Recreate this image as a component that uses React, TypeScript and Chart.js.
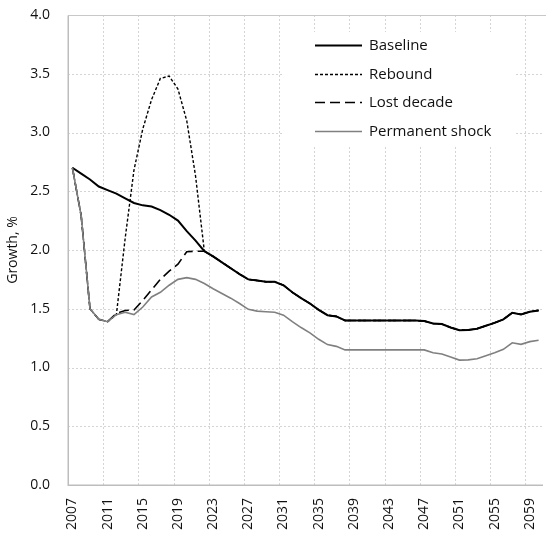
import { useEffect, useRef } from 'react';
import { Chart, registerables } from 'chart.js';

Chart.register(...registerables);

// Annual growth projections, 2007–2060
const years = [
  '2007', '2008', '2009', '2010', '2011', '2012', '2013', '2014', '2015', '2016',
  '2017', '2018', '2019', '2020', '2021', '2022', '2023', '2024', '2025', '2026',
  '2027', '2028', '2029', '2030', '2031', '2032', '2033', '2034', '2035', '2036',
  '2037', '2038', '2039', '2040', '2041', '2042', '2043', '2044', '2045', '2046',
  '2047', '2048', '2049', '2050', '2051', '2052', '2053', '2054', '2055', '2056',
  '2057', '2058', '2059', '2060',
];

const baseline = [
  2.70, 2.65, 2.60, 2.54, 2.51, 2.48, 2.44, 2.40, 2.38, 2.37,
  2.34, 2.30, 2.25, 2.16, 2.08, 1.99, 1.945, 1.895, 1.845, 1.795,
  1.75, 1.74, 1.73, 1.73, 1.70, 1.64, 1.59, 1.545, 1.49, 1.445,
  1.435, 1.40, 1.40, 1.40, 1.40, 1.40, 1.40, 1.40, 1.40, 1.40,
  1.395, 1.375, 1.37, 1.34, 1.318, 1.32, 1.33, 1.355, 1.38, 1.41,
  1.466, 1.452, 1.475, 1.486,
];

const rebound = [
  2.70, 2.29, 1.50, 1.41, 1.39, 1.45, 2.10, 2.68, 3.03, 3.28,
  3.46, 3.48, 3.37, 3.10, 2.63, 1.99, 1.945, 1.895, 1.845, 1.795,
  1.75, 1.74, 1.73, 1.73, 1.70, 1.64, 1.59, 1.545, 1.49, 1.445,
  1.435, 1.40, 1.40, 1.40, 1.40, 1.40, 1.40, 1.40, 1.40, 1.40,
  1.395, 1.375, 1.37, 1.34, 1.318, 1.32, 1.33, 1.355, 1.38, 1.41,
  1.466, 1.452, 1.475, 1.486,
];

const lostDecade = [
  2.70, 2.29, 1.50, 1.41, 1.39, 1.46, 1.485, 1.49, 1.57, 1.66,
  1.75, 1.82, 1.88, 1.985, 1.99, 1.99, 1.945, 1.895, 1.845, 1.795,
  1.75, 1.74, 1.73, 1.73, 1.70, 1.64, 1.59, 1.545, 1.49, 1.445,
  1.435, 1.40, 1.40, 1.40, 1.40, 1.40, 1.40, 1.40, 1.40, 1.40,
  1.395, 1.375, 1.37, 1.34, 1.318, 1.32, 1.33, 1.355, 1.38, 1.41,
  1.466, 1.452, 1.475, 1.486,
];

const permanentShock = [
  2.70, 2.29, 1.50, 1.41, 1.39, 1.45, 1.47, 1.45, 1.515, 1.60,
  1.64, 1.70, 1.75, 1.765, 1.75, 1.715, 1.67, 1.63, 1.59, 1.545,
  1.495, 1.48, 1.475, 1.47, 1.445, 1.39, 1.34, 1.295, 1.24, 1.195,
  1.18, 1.15, 1.15, 1.15, 1.15, 1.15, 1.15, 1.15, 1.15, 1.15,
  1.15, 1.125, 1.115, 1.09, 1.063, 1.065, 1.075, 1.10, 1.125, 1.155,
  1.21, 1.197, 1.22, 1.232,
];

const seriesNames = ['Baseline', 'Rebound', 'Lost decade', 'Permanent shock'];
const yTickValues = [0, 0.5, 1.0, 1.5, 2.0, 2.5, 3.0, 3.5, 4.0];
const yTitle = 'Growth, %';

const FONT_FAMILY = '"Open Sans", "Noto Sans", sans-serif';
const TEXT_COLOR = '#111111';
const LABEL_EVERY = 4;

// Dotted gridlines, plot frame and axis lines drawn beneath the series
const frameGrid = {
  id: 'frameGrid',
  beforeDatasetsDraw(chart: any) {
    const { ctx, chartArea: a, scales } = chart;
    const xs = scales.x;
    const ys = scales.y;
    const catW = xs.getPixelForValue(1) - xs.getPixelForValue(0);
    ctx.save();
    ctx.lineWidth = 1;
    ctx.strokeStyle = '#d4d4d4';
    ctx.setLineDash([2, 2]);
    yTickValues.forEach((v) => {
      if (v <= 0 || v >= 4) return;
      const py = Math.round(ys.getPixelForValue(v)) + 0.5;
      ctx.beginPath();
      ctx.moveTo(a.left, py);
      ctx.lineTo(a.right, py);
      ctx.stroke();
    });
    for (let i = LABEL_EVERY; i < years.length; i += LABEL_EVERY) {
      const px = Math.round(xs.getPixelForValue(i) - catW / 2) + 0.5;
      ctx.beginPath();
      ctx.moveTo(px, a.top);
      ctx.lineTo(px, a.bottom);
      ctx.stroke();
    }
    ctx.setLineDash([]);
    // top edge at 4.0
    ctx.strokeStyle = '#c8c8c8';
    const topY = Math.round(ys.getPixelForValue(4)) + 0.5;
    ctx.beginPath();
    ctx.moveTo(a.left, topY);
    ctx.lineTo(a.right + 3, topY);
    ctx.stroke();
    // axis lines
    ctx.strokeStyle = '#bdbdbd';
    ctx.lineWidth = 1.5;
    const leftX = Math.round(a.left) + 0.25;
    const botY = Math.round(ys.getPixelForValue(0)) + 0.25;
    ctx.beginPath();
    ctx.moveTo(leftX, topY);
    ctx.lineTo(leftX, botY);
    ctx.lineTo(a.right, botY);
    ctx.stroke();
    ctx.restore();
  },
};

// Axis text: value labels, vertical year labels and the value-axis title
const axisText = {
  id: 'axisText',
  afterDraw(chart: any) {
    const { ctx, chartArea: a, scales } = chart;
    const xs = scales.x;
    const ys = scales.y;
    ctx.save();
    ctx.font = `14px ${FONT_FAMILY}`;
    ctx.fillStyle = TEXT_COLOR;
    // value labels
    ctx.textAlign = 'right';
    ctx.textBaseline = 'middle';
    yTickValues.forEach((v) => {
      ctx.fillText(v.toFixed(1), a.left - 18, ys.getPixelForValue(v));
    });
    // year labels, reading upward
    for (let i = 0; i < years.length; i += LABEL_EVERY) {
      ctx.save();
      ctx.translate(xs.getPixelForValue(i), a.bottom + 13);
      ctx.rotate(-Math.PI / 2);
      ctx.textAlign = 'right';
      ctx.textBaseline = 'middle';
      ctx.fillText(years[i], 0, 0);
      ctx.restore();
    }
    // title
    ctx.save();
    ctx.translate(13, (a.top + a.bottom) / 2);
    ctx.rotate(-Math.PI / 2);
    ctx.textAlign = 'center';
    ctx.textBaseline = 'middle';
    ctx.fillText(yTitle, 0, 0);
    ctx.restore();
    ctx.restore();
  },
};

// Legend box inside the plot, upper right
const insideLegend = {
  id: 'insideLegend',
  afterDatasetsDraw(chart: any) {
    const { ctx, chartArea: a } = chart;
    const boxL = a.left + 215;
    const boxR = a.right - 28;
    const boxT = a.top + 17;
    const boxB = a.top + 132;
    ctx.save();
    ctx.fillStyle = '#ffffff';
    ctx.fillRect(boxL, boxT, boxR - boxL, boxB - boxT);
    const lineX0 = a.right - 228;
    const lineX1 = a.right - 181;
    const textX = a.right - 174;
    ctx.font = `15px ${FONT_FAMILY}`;
    ctx.textBaseline = 'middle';
    ctx.textAlign = 'left';
    seriesNames.forEach((name, i) => {
      const ds = chart.data.datasets[i];
      const yy = Math.round(a.top + 30 + i * 28.7) + 0.5;
      ctx.strokeStyle = ds.borderColor;
      ctx.lineWidth = ds.borderWidth;
      ctx.setLineDash(ds.borderDash || []);
      ctx.beginPath();
      ctx.moveTo(lineX0, yy);
      ctx.lineTo(lineX1, yy);
      ctx.stroke();
      ctx.setLineDash([]);
      ctx.fillStyle = TEXT_COLOR;
      ctx.fillText(name, textX, yy);
    });
    ctx.restore();
  },
};

export default function App() {
  const canvasRef = useRef<HTMLCanvasElement | null>(null);

  useEffect(() => {
    document.body.style.margin = '0';
    const canvas = canvasRef.current;
    if (!canvas) return;
    const common = { pointRadius: 0, pointHoverRadius: 0, tension: 0, fill: false };
    const chart = new Chart(canvas, {
      type: 'line',
      data: {
        labels: years,
        datasets: [
          { ...common, label: seriesNames[0], data: baseline, borderColor: '#000000', borderWidth: 2, order: 3 },
          { ...common, label: seriesNames[1], data: rebound, borderColor: '#000000', borderWidth: 1.4, borderDash: [3, 2], order: 2 },
          { ...common, label: seriesNames[2], data: lostDecade, borderColor: '#000000', borderWidth: 1.6, borderDash: [10, 5], order: 1 },
          { ...common, label: seriesNames[3], data: permanentShock, borderColor: '#808080', borderWidth: 1.6, order: 0 },
        ],
      },
      options: {
        responsive: false,
        animation: false,
        events: [],
        // plot area: left 68, top 15, right 543, bottom 485
        layout: { padding: { top: 15, right: 4, left: 68, bottom: 48 } },
        plugins: {
          legend: { display: false },
          tooltip: { enabled: false },
        },
        scales: {
          x: { type: 'category', offset: true, display: false },
          y: { min: 0, max: 4, display: false },
        },
      },
      plugins: [frameGrid, insideLegend, axisText],
    });
    return () => chart.destroy();
  }, []);

  return (
    <div style={{ position: 'absolute', left: 0, top: 0, width: 547, height: 533, background: '#ffffff' }}>
      <canvas ref={canvasRef} width={547} height={533} />
    </div>
  );
}
